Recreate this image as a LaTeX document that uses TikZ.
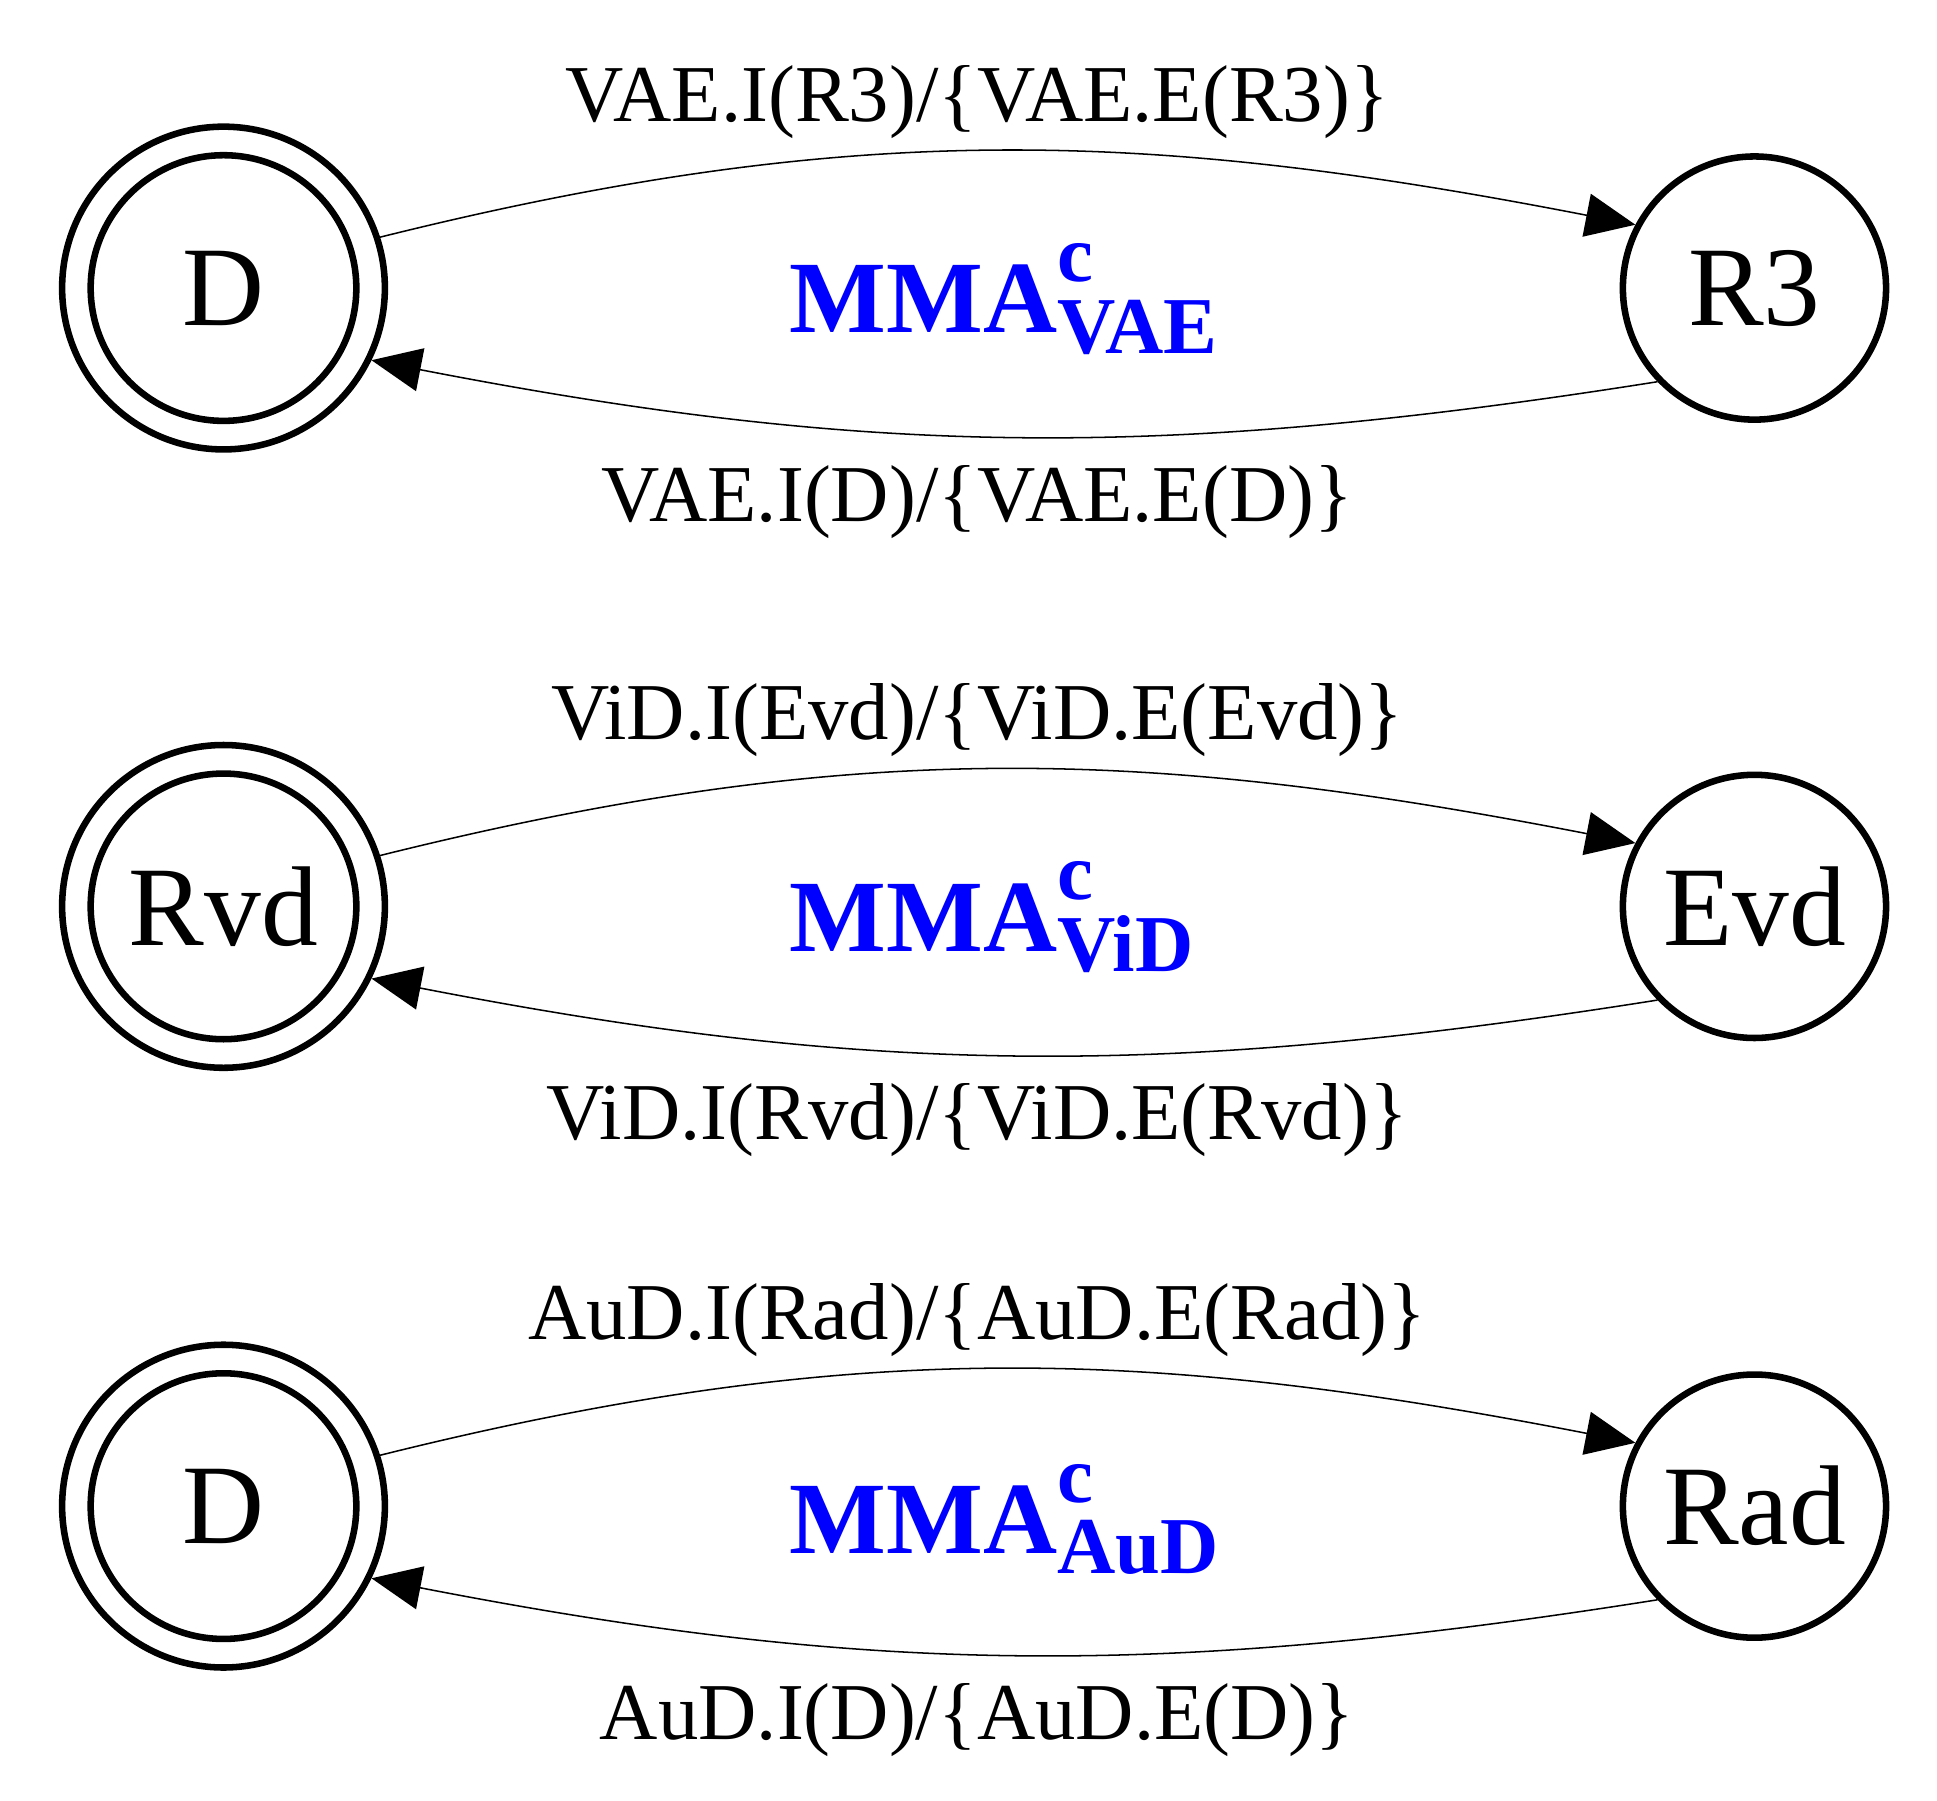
\documentclass[tikz,border=0pt]{standalone}
\usepackage{fontspec}
\setmainfont{Liberation Serif}
\usetikzlibrary{arrows.meta}
\begin{document}
\begin{tikzpicture}[x=0.02cm,y=0.02cm,
 st/.style={circle,draw,line width=3pt,minimum size=4.24cm,inner sep=0pt,font=\fontsize{52}{56}\selectfont},
 acc/.style={circle,draw,line width=3pt,minimum size=5.2cm,inner sep=0pt,font=\fontsize{52}{56}\selectfont},
 tr/.style={line width=0.7pt,-{Triangle[length=0.8cm,width=0.7cm]}},
 lab/.style={font=\fontsize{37}{40}\selectfont},
 mma/.style={text=blue,font=\bfseries\fontsize{47}{50}\selectfont}]
\useasboundingbox (0,0) rectangle (1560,1450);
\newcommand{\mrow}[7]{%
 \node[acc] (#1) at (180,#3) {#4};
 \draw[line width=3pt] (#1.center) circle[radius=2.14cm];
 \node[st] (#2) at (1413,#3) {#5};
 \draw[tr] (#1.18) to[out=14,in=169] (#2.152);
 \draw[tr] (#2.224) to[out=189,in=-11] (#1.-26);
 \node[lab] (#1t) at (787,#3+150) {#6};
 \node[lab] (#1b) at (787,#3-172) {#7};
}
\mrow{a}{b}{1218}{D}{R3}{VAE.I(R3)/\{VAE.E(R3)\}}{VAE.I(D)/\{VAE.E(D)\}}
\mrow{c}{d}{720}{Rvd}{Evd}{ViD.I(Evd)/\{ViD.E(Evd)\}}{ViD.I(Rvd)/\{ViD.E(Rvd)\}}
\mrow{e}{f}{237}{D}{Rad}{AuD.I(Rad)/\{AuD.E(Rad)\}}{AuD.I(D)/\{AuD.E(D)\}}
\newcommand{\mlab}[3]{\node[mma,anchor=base west] (#1) at (630,#2) {MMA\makebox[0pt][l]{\raisebox{0.5em}{\fontsize{37}{40}\selectfont c}}\raisebox{-0.2em}{\fontsize{37}{40}\selectfont #3}};}
\mlab{m1}{1182}{VAE}
\mlab{m2}{684}{ViD}
\mlab{m3}{199}{AuD}
\end{tikzpicture}
\end{document}
